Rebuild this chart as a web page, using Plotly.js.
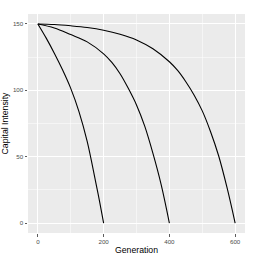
<!DOCTYPE html>
<html>
<head>
<meta charset="utf-8">
<script src="https://cdn.plot.ly/plotly-3.0.1.min.js"></script>
<style>html,body{margin:0;padding:0;background:#fff;}#chart{width:261px;height:255px;}</style>
</head>
<body>
<div id="chart"></div>
<script>
// Generation values and capital intensity for each of the three paths
const gen1 = [0, 25, 50, 75, 100, 125, 150, 175, 187.5, 200];
const cap1 = [150, 139.5, 128, 115.5, 101.5, 84, 61.5, 32, 16.5, 0];

const gen2 = [0, 50, 100, 150, 200, 225, 250, 275, 300, 325, 350, 375, 400];
const cap2 = [150, 147, 142, 136.5, 127.5, 121, 112.5, 101.5, 89, 73, 52.5, 29, 0];

const gen3 = [0, 50, 100, 150, 200, 250, 300, 350, 400, 425, 450, 475, 500, 525, 550, 575, 600];
const cap3 = [150, 149.6, 148.6, 147.3, 145.3, 142.3, 138, 131.3, 121.5, 115, 106.5, 96.5, 84.5, 69, 50.5, 27, 0];

const xTicks = [0, 200, 400, 600];
const yTicks = [0, 50, 100, 150];

const lineStyle = {color: '#000000', width: 1.1, shape: 'spline', smoothing: 1};
const traces = [
  {x: gen1, y: cap1, mode: 'lines', line: lineStyle, hoverinfo: 'skip'},
  {x: gen2, y: cap2, mode: 'lines', line: lineStyle, hoverinfo: 'skip'},
  {x: gen3, y: cap3, mode: 'lines', line: lineStyle, hoverinfo: 'skip'}
];

const font = 'Liberation Sans, Arial, Helvetica, sans-serif';
const axisCommon = {
  showgrid: true, gridcolor: '#FFFFFF', gridwidth: 1,
  zeroline: false, showline: false,
  ticks: 'outside', ticklen: 2.5, tickwidth: 0.8, tickcolor: '#333333',
  tickfont: {family: font, size: 6.2, color: '#4D4D4D'},
  fixedrange: true
};

const layout = {
  width: 261, height: 255,
  margin: {l: 28, r: 16.3, t: 14, b: 21.7, pad: 0},
  paper_bgcolor: '#FFFFFF', plot_bgcolor: '#EBEBEB',
  showlegend: false,
  xaxis: Object.assign({}, axisCommon, {
    range: [-30, 630], tickmode: 'array', tickvals: xTicks, ticktext: xTicks.map(String),
    minor: {tickmode: 'array', tickvals: [100, 300, 500], showgrid: true, gridcolor: '#FFFFFF', gridwidth: 0.5, ticks: ''},
    title: {text: 'Generation', font: {family: font, size: 8.7, color: '#000000'}, standoff: 2}
  }),
  yaxis: Object.assign({}, axisCommon, {
    range: [-7.5, 157.5], tickmode: 'array', tickvals: yTicks, ticktext: yTicks.map(String),
    minor: {tickmode: 'array', tickvals: [25, 75, 125], showgrid: true, gridcolor: '#FFFFFF', gridwidth: 0.5, ticks: ''},
    title: {text: 'Capital Intensity', font: {family: font, size: 8.7, color: '#000000'}, standoff: 3}
  })
};

Plotly.newPlot('chart', traces, layout, {staticPlot: true, displayModeBar: false});
</script>
</body>
</html>
